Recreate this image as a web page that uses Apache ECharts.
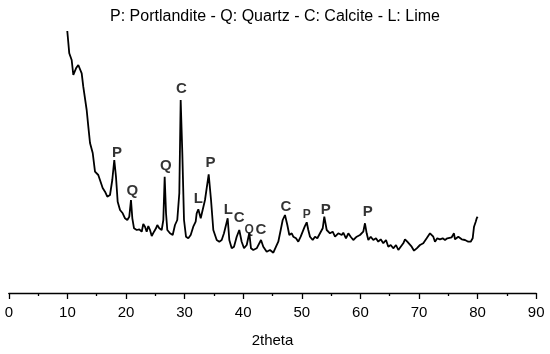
<!DOCTYPE html>
<html>
<head>
<meta charset="utf-8">
<script src="https://cdn.jsdelivr.net/npm/echarts@6/dist/echarts.min.js"></script>
<style>html,body{margin:0;padding:0;background:#fff}#c{width:550px;height:354px}</style>
</head>
<body>
<div id="c"></div>
<script>
var twoTheta = [9.98,10.32,10.73,11.01,11.47,11.86,12.15,12.44,12.71,13.29,13.57,13.86,14.32,14.71,15.27,15.56,16.02,16.42,16.81,17.27,17.66,18.00,18.29,18.58,18.98,19.44,19.83,20.22,20.56,20.85,21.08,21.37,21.83,22.27,22.68,22.95,23.24,23.53,23.81,24.10,24.39,24.78,25.12,25.34,25.68,26.09,26.37,26.60,26.83,27.05,27.51,27.97,28.36,28.75,29.10,29.33,29.61,29.90,30.24,30.63,31.04,31.48,31.89,32.06,32.34,32.75,33.09,33.48,34.11,34.51,34.90,35.48,35.92,36.33,36.72,37.06,37.35,37.63,38.04,38.43,38.89,39.33,39.74,40.14,40.60,41.04,41.33,41.72,42.30,43.04,43.43,44.01,44.57,45.14,45.60,45.99,46.40,46.74,47.13,47.53,47.87,48.28,48.55,49.01,49.40,49.81,50.15,50.49,50.84,51.11,51.40,51.86,52.25,52.65,53.11,53.57,53.84,54.25,54.81,55.27,55.67,56.23,56.81,57.08,57.54,57.94,58.34,58.79,59.37,59.93,60.49,60.78,61.07,61.35,61.76,62.20,62.66,63.05,63.46,63.91,64.37,64.76,65.17,65.61,66.08,66.47,66.88,67.32,67.61,68.00,68.34,68.75,69.15,69.61,70.17,70.73,71.31,71.88,72.44,72.73,73.12,73.58,74.04,74.44,74.83,75.17,75.58,75.97,76.14,76.43,76.71,77.29,77.85,78.41,78.82,79.16,79.39,79.68,79.85,80.00];
var intensity = [2620,2397,2330,2180,2247,2280,2297,2197,2063,1830,1663,1500,1400,1213,1180,1130,1050,1013,963,980,1130,1330,1163,913,830,797,747,730,763,930,747,647,630,637,613,690,663,613,670,630,570,613,647,680,647,630,730,1163,797,630,597,580,680,730,1000,1930,1400,730,563,547,580,663,713,797,837,747,730,930,1187,930,630,530,513,530,597,597,747,530,447,463,563,630,513,447,480,600,447,430,447,530,463,413,430,403,463,513,630,730,780,680,580,597,563,547,513,563,613,663,707,630,563,530,563,547,597,647,763,630,597,613,563,597,580,603,547,597,563,530,563,580,613,697,597,530,563,530,547,513,537,497,530,463,480,447,480,430,463,497,537,513,530,463,423,447,480,497,547,597,563,513,547,537,547,530,547,530,557,597,537,530,563,537,530,513,513,547,663,713,747,763];

var peakLetters = ['P','Q','Q','C','L','P','L','C','Q','C','C','P','P','P'];
var peakX = [18.46,21.08,26.78,29.44,32.34,34.42,37.46,39.33,41.02,43.04,47.30,50.84,54.08,61.25];
var peakLabelY = [1403,1020,1270,2042,940,1300,830,747,637,630,863,780,830,813];
var smallPeaks = [8, 11];

var xTicks = [0,10,20,30,40,50,60,70,80,90];
var titleText = 'P: Portlandite - Q: Quartz - C: Calcite - L: Lime';
var xName = '2theta';

var chart = echarts.init(document.getElementById('c'));
var lineData = twoTheta.map(function(x,i){return [x,intensity[i]];});
var labelData = peakX.map(function(x,i){
  return {value:[x,peakLabelY[i]], name:peakLetters[i],
    label:{fontSize: smallPeaks.indexOf(i)>=0 ? 12 : 15}};
});
var FONT = "'Liberation Sans', Arial, sans-serif";
chart.setOption({
  animation:false,
  title:{text:titleText,left:'center',top:4,
    textStyle:{fontFamily:FONT,fontSize:16,fontWeight:'normal',color:'#000'}},
  grid:{left:8.8,right:13.8,top:30,bottom:61,containLabel:false},
  xAxis:{type:'value',min:xTicks[0],max:xTicks[xTicks.length-1],interval:10,
    name:xName,nameLocation:'middle',nameGap:40,
    nameTextStyle:{fontFamily:FONT,fontSize:15,color:'#000'},
    axisLine:{show:true,onZero:false,lineStyle:{color:'#000',width:1.3}},
    axisTick:{show:true,inside:false,length:6,lineStyle:{color:'#000',width:1.3}},
    minorTick:{show:true,splitNumber:2,length:3,lineStyle:{color:'#000',width:1.3}},
    axisLabel:{fontFamily:FONT,fontSize:15,color:'#000',margin:12},
    splitLine:{show:false}},
  yAxis:{type:'value',min:0,max:2630,show:false,splitLine:{show:false}},
  series:[
    {type:'line',data:lineData,symbol:'none',lineStyle:{color:'#000',width:1.8},z:2},
    {type:'scatter',data:labelData,symbolSize:0,silent:true,z:3,
      label:{show:true,position:'inside',formatter:function(p){return p.name;},
        fontFamily:FONT,fontWeight:'bold',color:'#000'}}
  ]
});
</script>
</body>
</html>
